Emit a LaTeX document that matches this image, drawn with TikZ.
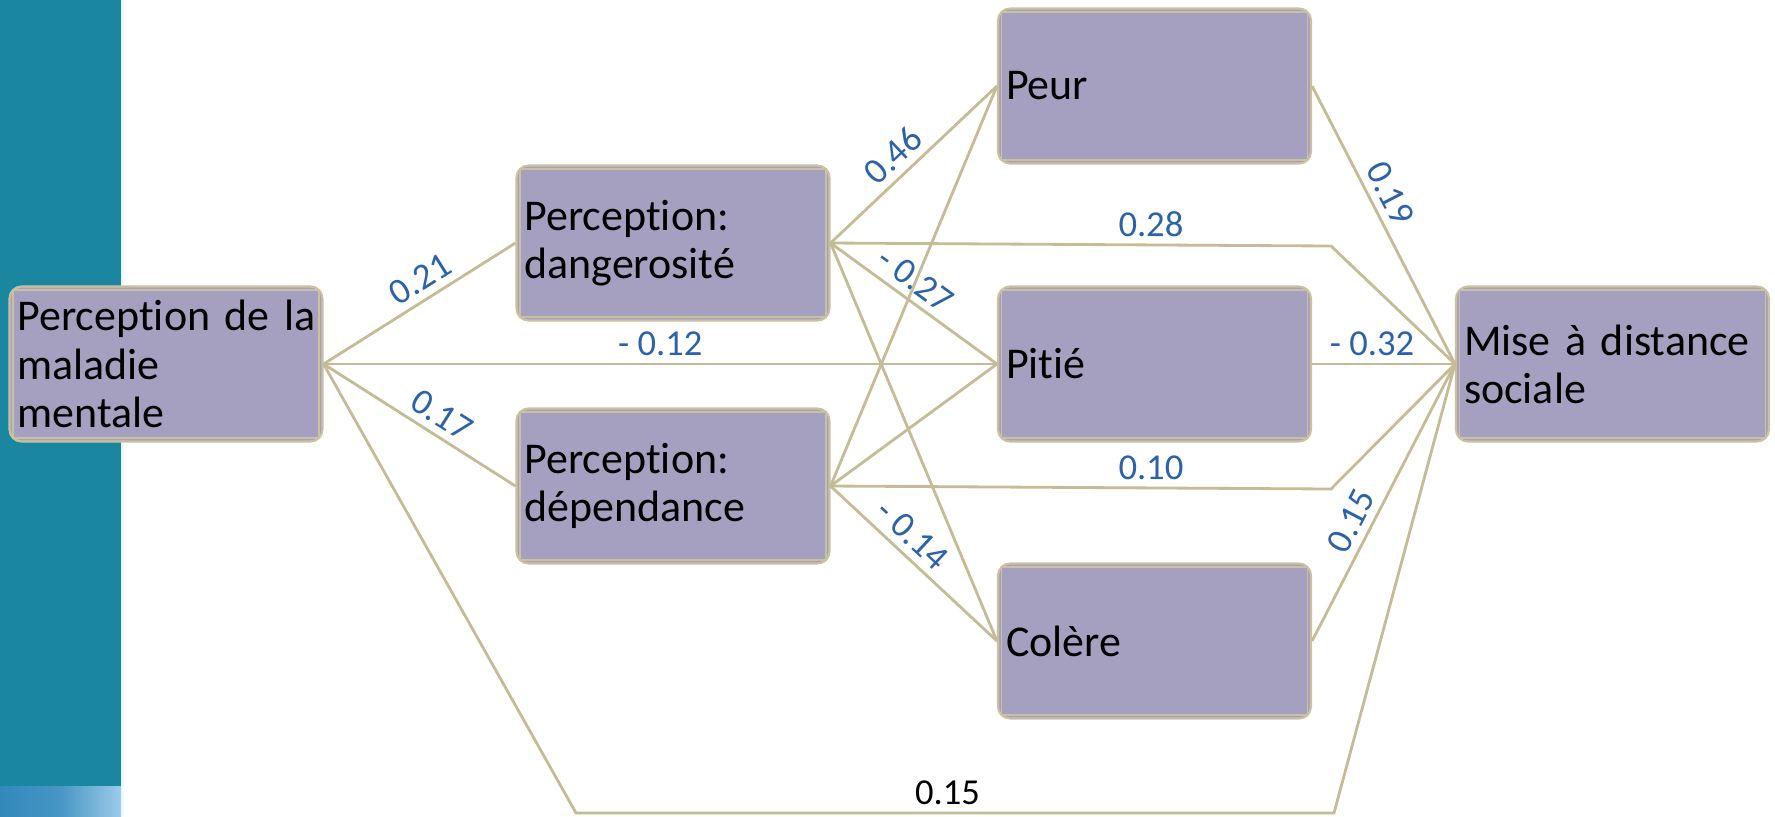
\documentclass[tikz,border=0pt]{standalone}
\usepackage{fontspec}
\setmainfont{Carlito}[Ligatures=NoCommon]
\usetikzlibrary{calc}
\definecolor{tealbar}{HTML}{1A86A0}
\definecolor{tealbot}{HTML}{3289BB}
\definecolor{tealbotr}{HTML}{9CCBEA}
\definecolor{boxfill}{HTML}{A5A0C0}
\definecolor{boxline}{HTML}{C9C1A0}
\definecolor{connc}{HTML}{C4BC96}
\definecolor{lblue}{HTML}{2B62AA}
\begin{document}
\begin{tikzpicture}[x=1cm,y=1cm,
  box/.style={draw=boxline, line width=0.6pt, fill=boxfill, rounded corners=0.12cm,
    minimum width=3.13cm, minimum height=1.55cm, text width=2.97cm,
    inner xsep=0.08cm, inner ysep=0pt, align=left,
    font=\fontsize{12.5pt}{13.7pt}\selectfont},
  innerline/.style={draw=boxline, line width=0.4pt},
  link/.style={draw=connc, line width=0.8pt},
  lbl/.style={font=\fontsize{10.4pt}{12pt}\selectfont, text=lblue, sloped, above, inner sep=2pt}
]
\useasboundingbox (0,0) rectangle (17.75,-8.16);
\fill[white] (0,0) rectangle (17.75,-8.16);
% side bar
\fill[tealbar] (0,0) rectangle (1.21,-7.86);
\shade[left color=tealbot, right color=tealbotr, middle color=tealbot!80!tealbotr] (0,-7.86) rectangle (1.21,-8.16);
\fill[cyan!8] (1.21,0) rectangle (1.24,-8.16);

% nodes
\node[box] (M)  at (1.66,-3.64) {\mbox{Perception de la}\\maladie\\mentale};
\node[box] (D)  at (6.73,-2.43) {Perception:\\dangerosité};
\node[box] (P)  at (6.73,-4.86) {Perception:\\dépendance};
\node[box] (Pe) at (11.545,-0.86) {Peur};
\node[box] (Pi) at (11.545,-3.64) {Pitié};
\node[box] (C)  at (11.545,-6.41) {Colère};
\node[box] (S)  at (16.125,-3.64) {\mbox{Mise à distance}\\sociale};

\foreach \n in {M,D,P,Pe,Pi,C,S}
  \draw[innerline] ($(\n.south west)+(0.045,0.045)$) rectangle ($(\n.north east)-(0.045,0.045)$);

% bend points
\coordinate (b28) at (13.31,-2.46);
\coordinate (b10) at (13.31,-4.89);
\coordinate (bl) at (5.76,-8.13);
\coordinate (br) at (13.34,-8.13);

% connectors from M
\draw[link] (M.east) -- node[lbl,pos=0.56]{0.21} (D.west);
\draw[link] (M.east) -- node[lbl,pos=0.50]{- 0.12} (Pi.west);
\draw[link] (M.east) -- node[lbl,pos=0.56]{0.17} (P.west);
\draw[link] (M.east) -- (bl) -- node[lbl,text=black,pos=0.49]{0.15} (br) -- (S.west);

% connectors from D
\draw[link] (D.east) -- node[lbl,pos=0.46]{0.46} (Pe.west);
\draw[link] (D.east) -- node[lbl,pos=0.64]{0.28} (b28) -- (S.west);
\draw[link] (D.east) -- node[lbl,pos=0.44]{- 0.27} (Pi.west);
\draw[link] (D.east) -- (C.west);

% connectors from P
\draw[link] (P.east) -- (Pe.west);
\draw[link] (P.east) -- (Pi.west);
\draw[link] (P.east) -- node[lbl,pos=0.64]{0.10} (b10) -- (S.west);
\draw[link] (P.east) -- node[lbl,pos=0.41]{- 0.14} (C.west);

% connectors to S
\draw[link] (Pe.east) -- node[lbl,pos=0.42]{0.19} (S.west);
\draw[link] (Pi.east) -- node[lbl,pos=0.42]{- 0.32} (S.west);
\draw[link] (C.east) -- node[lbl,pos=0.40]{0.15} (S.west);
\end{tikzpicture}
\end{document}
